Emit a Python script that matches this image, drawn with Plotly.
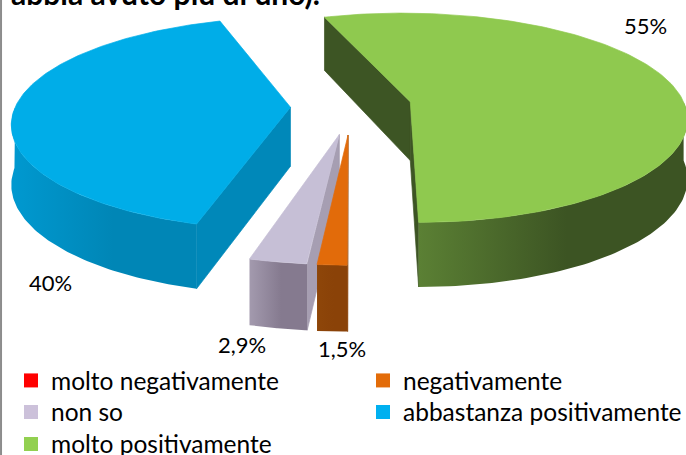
import numpy as np
import plotly.graph_objects as go

# ---------------- data ----------------
categories = ["molto negativamente", "negativamente", "non so",
              "abbastanza positivamente", "molto positivamente"]
values = [0.0, 1.5, 2.9, 40.0, 55.0]
title_text = "abbia avuto più di uno)."

# ---------------- style ----------------
legend_colors = ["#FF0000", "#E36C09", "#CCC1DA", "#00B0F0", "#92D050"]
top_colors = ["#FF0000", "#E26B0A", "#C6BFD6", "#00ADE8", "#8FC94F"]
radial_colors = ["#A00000", "#8B4309", "#A69EB2", "#0088B9", "#3D5524"]
side_light = ["#C00000", "#8E4609", "#A39AAE", "#0099D0", "#5B8034"]
side_dark = ["#900000", "#8A4208", "#857A8F", "#0086B6", "#3C5423"]
# legend slot (x, y) in pixels for every category
legend_slot = [(11, 380.5), (363, 380.5), (11, 412), (363, 412), (11, 444)]
label_pos = [None, (342, 348), (242, 344), (50, 282), (645, 25)]  # pixel anchors of % labels

FONT = "Lato, 'Open Sans', sans-serif"
W, Hpx = 686, 455

# projection of the 3-D pie (pixel space)
START = 180.0          # first slice angle (deg, clockwise from top)
X0, Y0 = 351.0, 106.4  # pie centre
A, B = 275.0, 106.0    # horizontal / vertical radius
PX, PY = 0.14, 0.15    # perspective factors
EU, EV = 0.22, 0.26    # explosion
DEPTH, Q = 59.0, 0.10  # thickness


def proj(u, v, z):
    x = X0 + A * u * (1 + PX * v)
    y = Y0 + B * v * (1 + PY * v) + z * DEPTH * (1 + Q * v)
    return x, y


def area(pts):
    s = 0.0
    for (x1, y1), (x2, y2) in zip(pts, pts[1:] + pts[:1]):
        s += x1 * y2 - x2 * y1
    return s / 2


fig = go.Figure()
total = sum(values)
slices = []
ang = START
for i, val in enumerate(values):
    sweep = 360.0 * val / total
    t1, t2 = ang, ang + sweep
    ang = t2
    if sweep <= 0:
        continue
    m = np.radians((t1 + t2) / 2)
    eu, ev = EU * np.sin(m), -EV * np.cos(m)

    def rim(t, z, eu=eu, ev=ev):
        r = np.radians(t)
        return proj(eu + np.sin(r), ev - np.cos(r), z)

    apex_t, apex_b = proj(eu, ev, 0), proj(eu, ev, 1)
    faces = []
    # radial faces
    f1 = [apex_t, rim(t1, 0), rim(t1, 1), apex_b]
    if area(f1) < 0:
        faces.append((f1, radial_colors[i], None))
    f2 = [apex_t, apex_b, rim(t2, 1), rim(t2, 0)]
    if area(f2) < 0:
        faces.append((f2, radial_colors[i], None))
    # outer curved side (front half only)
    for k in (0, 1):
        a, b = max(t1, 90 + 360 * k), min(t2, 270 + 360 * k)
        if b > a:
            ts = np.linspace(a, b, 80)
            poly = [rim(t, 0) for t in ts] + [rim(t, 1) for t in ts[::-1]]
            faces.append((poly, side_dark[i], (side_light[i], side_dark[i])))
    # top face
    ts = np.linspace(t1, t2, 160)
    top = [apex_t] + [rim(t, 0) for t in ts]
    faces.append((top, top_colors[i], None))
    slices.append((ev, faces))

for _, faces in sorted(slices, key=lambda s: s[0]):
    for poly, col, grad in faces:
        xs = [p[0] for p in poly] + [poly[0][0]]
        ys = [p[1] for p in poly] + [poly[0][1]]
        kw = dict(x=xs, y=ys, mode="lines", fill="toself", hoverinfo="skip",
                  showlegend=False)
        if grad:
            kw["fillgradient"] = dict(type="horizontal",
                                      colorscale=[[0, grad[0]], [0.55, grad[1]], [1, grad[1]]])
            kw["line"] = dict(width=0)
        else:
            kw["fillcolor"] = col
            kw["line"] = dict(width=0.7, color=col)
        fig.add_trace(go.Scatter(**kw))

# percentage labels
for i, val in enumerate(values):
    if val <= 0 or label_pos[i] is None:
        continue
    txt = f"{val:g}".replace(".", ",") + "%"
    fig.add_annotation(x=label_pos[i][0], y=label_pos[i][1], text=txt, showarrow=False,
                       xanchor="center", yanchor="middle",
                       font=dict(family=FONT, size=22, color="#000000"))

# legend entries (one small legend per entry, laid out in two columns)
legend_layout = {}
for i, cat in enumerate(categories):
    name = "legend" if i == 0 else f"legend{i + 1}"
    fig.add_trace(go.Scatter(x=[None], y=[None], mode="markers", name=cat,
                             marker=dict(symbol="square", size=14, color=legend_colors[i],
                                         line=dict(width=0)),
                             legend=name))
    lx, ly = legend_slot[i]
    legend_layout[name] = dict(x=lx / W, y=1 - ly / Hpx, xref="paper", yref="paper",
                               xanchor="left", yanchor="middle",
                               bgcolor="rgba(0,0,0,0)", itemwidth=30,
                               font=dict(family=FONT, size=24.5, color="#000000"),
                               itemclick=False, itemdoubleclick=False)

# cut-off title line
fig.add_annotation(x=9, y=13, text=f"<b>{title_text}</b>", showarrow=False,
                   xanchor="left", yanchor="bottom",
                   font=dict(family=FONT, size=30, color="#000000"))

# chart border on the left
fig.add_shape(type="line", xref="paper", yref="paper", x0=0.0015, x1=0.0015, y0=0, y1=1,
              line=dict(color="#8C8C8C", width=2))

fig.update_layout(
    width=W, height=Hpx,
    margin=dict(l=0, r=0, t=0, b=0, autoexpand=False),
    paper_bgcolor="white", plot_bgcolor="white",
    xaxis=dict(range=[0, W], visible=False, fixedrange=True),
    yaxis=dict(range=[Hpx, 0], visible=False, fixedrange=True),
    showlegend=True,
    **legend_layout,
)

fig.write_html("out.html", config={"displayModeBar": False, "staticPlot": True},
               post_script="document.body.style.margin='0';document.body.style.overflow='hidden';")
